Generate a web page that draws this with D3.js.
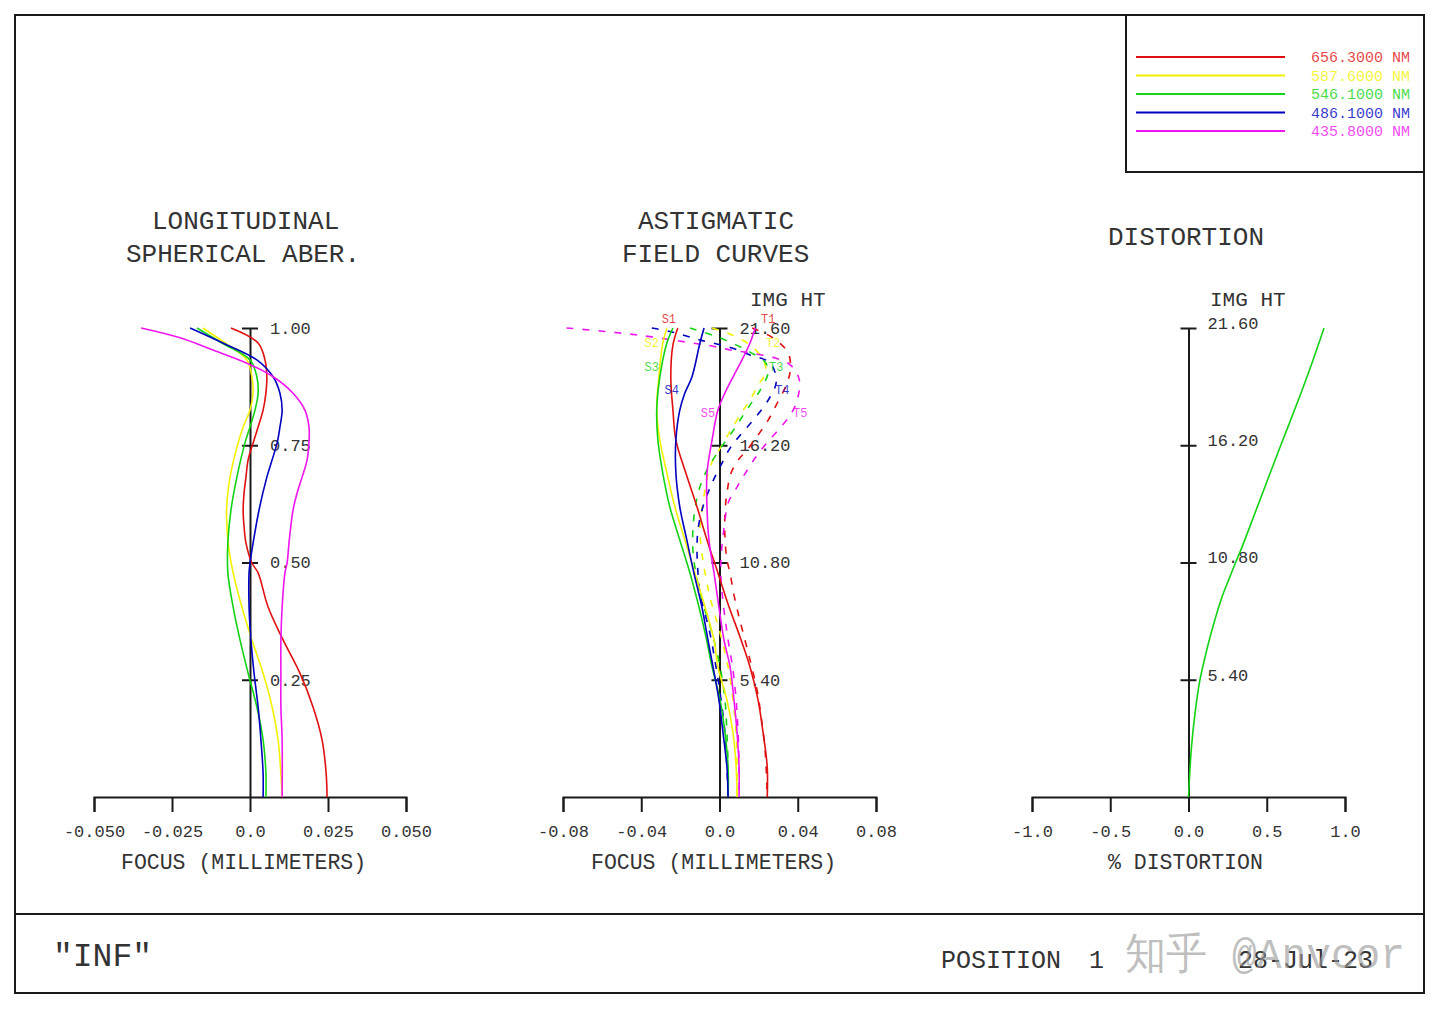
<!DOCTYPE html>
<html><head><meta charset="utf-8">
<script src="https://cdn.jsdelivr.net/npm/d3@7"></script>
<style>
body{margin:0;background:#fff;}
svg{display:block;}
text{font-family:"Liberation Mono","DejaVu Sans Mono",monospace;}
</style></head><body>
<svg id="c" width="1440" height="1009"></svg>
<script>
// ---------- DATA ----------
const wavelengths = ["656.3000 NM","587.6000 NM","546.1000 NM","486.1000 NM","435.8000 NM"];
const waveColors  = ["#e01010","#f2f200","#14d214","#0000c0","#f014f0"];

// Longitudinal spherical aberration: [relative pupil, focus mm]
const lsaRed = [[1.000,-0.0061],[0.968,0.0026],[0.932,0.0048],[0.896,0.0054],[0.861,0.0051],[0.825,0.0042],[0.789,0.0026],[0.755,0.0010],[0.719,-0.0006],[0.682,-0.0013],[0.648,-0.0019],[0.612,-0.0022],[0.576,-0.0019],[0.542,-0.0013],[0.499,0.0006],[0.478,0.0026],[0.405,0.0058],[0.335,0.0106],[0.264,0.0160],[0.192,0.0202],[0.122,0.0231],[0.051,0.0244],[0,0.0247]];
const lsaYellow = [[1.000,-0.0151],[0.968,-0.0080],[0.932,-0.0010],[0.896,0.0006],[0.861,0.0010],[0.825,0.0000],[0.789,-0.0022],[0.755,-0.0038],[0.682,-0.0064],[0.612,-0.0075],[0.542,-0.0070],[0.478,-0.0054],[0.405,-0.0026],[0.335,0.0006],[0.264,0.0042],[0.192,0.0071],[0.122,0.0090],[0.051,0.0099],[0,0.0103]];
const lsaGreen = [[1.000,-0.0170],[0.968,-0.0090],[0.932,0.0000],[0.896,0.0022],[0.861,0.0026],[0.825,0.0016],[0.789,0.0000],[0.755,-0.0016],[0.682,-0.0042],[0.612,-0.0061],[0.542,-0.0071],[0.478,-0.0071],[0.405,-0.0054],[0.335,-0.0032],[0.264,-0.0006],[0.192,0.0022],[0.122,0.0042],[0.051,0.0051],[0,0.0051]];
const lsaBlue = [[1.000,-0.0192],[0.968,-0.0087],[0.932,0.0022],[0.896,0.0074],[0.861,0.0096],[0.825,0.0103],[0.789,0.0096],[0.755,0.0087],[0.719,0.0071],[0.682,0.0054],[0.612,0.0029],[0.542,0.0010],[0.499,0.0000],[0.478,-0.0003],[0.405,-0.0003],[0.335,0.0003],[0.264,0.0013],[0.192,0.0026],[0.122,0.0035],[0.051,0.0042],[0,0.0042]];
const lsaMagenta = [[1.000,-0.0349],[0.979,-0.0224],[0.953,-0.0119],[0.925,-0.0010],[0.896,0.0074],[0.861,0.0138],[0.825,0.0176],[0.789,0.0189],[0.755,0.0189],[0.719,0.0183],[0.682,0.0167],[0.648,0.0151],[0.612,0.0138],[0.542,0.0125],[0.499,0.0119],[0.478,0.0112],[0.405,0.0103],[0.335,0.0099],[0.264,0.0099],[0.192,0.0099],[0.122,0.0103],[0,0.0103]];

// Astigmatic field curves: [image height mm, focus mm]
const sagRed = [[21.60,-0.0213],[20.82,-0.0238],[19.34,-0.0249],[17.82,-0.0238],[16.44,-0.0223],[14.92,-0.0172],[13.36,-0.0115],[11.84,-0.0064],[10.32,-0.0008],[8.75,0.0049],[7.37,0.0105],[5.99,0.0156],[4.47,0.0197],[2.95,0.0223],[1.38,0.0244],[0,0.0244]];
const sagYellow = [[21.60,-0.0269],[20.91,-0.0290],[19.34,-0.0310],[17.82,-0.0321],[16.44,-0.0305],[14.92,-0.0269],[13.36,-0.0228],[11.84,-0.0177],[10.32,-0.0126],[8.75,-0.0074],[7.23,-0.0028],[5.99,-0.0008],[4.47,0.0038],[2.95,0.0069],[1.38,0.0085],[0,0.0090]];
const sagGreen = [[21.60,-0.0238],[20.91,-0.0269],[19.34,-0.0305],[17.82,-0.0321],[16.44,-0.0315],[14.92,-0.0290],[13.36,-0.0254],[11.84,-0.0203],[10.32,-0.0151],[8.75,-0.0105],[7.37,-0.0069],[5.99,-0.0038],[4.47,0.0003],[2.95,0.0028],[1.38,0.0044],[0,0.0044]];
const sagBlue = [[21.60,-0.0079],[20.91,-0.0100],[19.34,-0.0141],[18.61,-0.0177],[17.82,-0.0203],[16.44,-0.0223],[14.92,-0.0223],[13.36,-0.0203],[11.84,-0.0167],[10.32,-0.0131],[8.75,-0.0090],[7.23,-0.0059],[5.99,-0.0033],[4.47,-0.0003],[2.95,0.0018],[1.38,0.0038],[0,0.0044]];
const sagMagenta = [[21.60,0.0182],[20.91,0.0156],[20.13,0.0115],[19.34,0.0069],[18.61,0.0028],[17.82,-0.0008],[16.44,-0.0038],[14.92,-0.0064],[13.36,-0.0064],[11.84,-0.0054],[10.32,-0.0028],[8.75,-0.0003],[7.23,0.0023],[5.99,0.0054],[4.47,0.0074],[2.95,0.0090],[1.38,0.0100],[0,0.0100]];

const tanRed = [[21.60,0.0167],[21.14,0.0274],[20.45,0.0351],[19.67,0.0362],[18.97,0.0341],[18.05,0.0290],[17.36,0.0249],[16.67,0.0197],[15.98,0.0141],[15.52,0.0095],[14.92,0.0059],[14.00,0.0038],[13.08,0.0028],[11.97,0.0028],[10.92,0.0038],[10.32,0.0054],[9.53,0.0069],[8.47,0.0095],[7.55,0.0121],[6.31,0.0156],[4.93,0.0192],[4.01,0.0208],[2.16,0.0233],[0,0.0244]];
const tanYellow = [[21.60,-0.0038],[21.28,0.0064],[20.82,0.0156],[20.22,0.0218],[19.57,0.0238],[18.97,0.0197],[18.28,0.0156],[17.73,0.0115],[16.99,0.0064],[16.21,0.0013],[15.20,-0.0049],[14.14,-0.0074],[13.22,-0.0090],[12.30,-0.0100],[11.24,-0.0090],[10.32,-0.0074],[9.21,-0.0049],[7.55,0.0003],[5.99,0.0044],[4.47,0.0069],[2.95,0.0085],[1.38,0.0090],[0,0.0090]];
const tanGreen = [[21.60,-0.0151],[21.28,-0.0038],[20.95,0.0054],[20.49,0.0156],[20.03,0.0233],[19.57,0.0249],[18.74,0.0208],[18.05,0.0156],[17.36,0.0105],[16.67,0.0054],[15.89,-0.0008],[14.97,-0.0069],[14.14,-0.0105],[13.22,-0.0126],[12.30,-0.0136],[11.38,-0.0136],[10.32,-0.0121],[9.07,-0.0090],[7.55,-0.0038],[5.99,0.0003],[4.47,0.0028],[2.95,0.0038],[1.38,0.0044],[0,0.0044]];
const tanBlue = [[21.60,-0.0346],[21.42,-0.0244],[21.05,-0.0100],[20.68,0.0064],[20.36,0.0156],[19.99,0.0259],[19.11,0.0290],[18.28,0.0249],[17.46,0.0182],[16.76,0.0115],[16.07,0.0054],[15.20,0.0003],[14.46,-0.0038],[13.36,-0.0085],[12.30,-0.0110],[11.38,-0.0115],[10.32,-0.0110],[9.40,-0.0100],[7.55,-0.0049],[5.99,-0.0018],[4.47,0.0008],[2.95,0.0028],[1.38,0.0038],[0,0.0044]];
const tanMagenta = [[21.60,-0.0782],[21.51,-0.0664],[21.42,-0.0562],[21.32,-0.0459],[21.19,-0.0346],[20.91,-0.0141],[20.77,-0.0038],[20.59,0.0054],[20.45,0.0156],[20.22,0.0285],[19.90,0.0362],[19.21,0.0408],[18.28,0.0397],[17.59,0.0362],[16.90,0.0300],[16.21,0.0233],[15.61,0.0182],[14.97,0.0136],[14.28,0.0090],[13.54,0.0044],[12.76,0.0028],[11.97,0.0018],[11.05,0.0008],[9.99,0.0008],[8.61,0.0023],[7.23,0.0044],[5.85,0.0069],[4.47,0.0085],[2.95,0.0095],[1.38,0.0100],[0,0.0100]];

const sLabels = ["S1","S2","S3","S4","S5"];
const tLabels = ["T1","T2","T3","T4","T5"];
const labelHeights = [22.03,20.91,19.80,18.74,17.69];
const sLabelFocus = [-0.0259,-0.0346,-0.0346,-0.0244,-0.0059];
const tLabelFocus = [0.0249,0.0274,0.0290,0.0321,0.0413];

// Distortion: [image height mm, % distortion]
const distortion = [[21.60,0.866],[20.13,0.796],[18.61,0.719],[17.22,0.645],[15.98,0.578],[14.60,0.505],[13.08,0.425],[11.51,0.342],[10.78,0.300],[9.99,0.256],[9.21,0.214],[7.69,0.150],[6.63,0.112],[5.39,0.073],[3.87,0.042],[2.30,0.019],[1.11,0.008],[0,0]];

// Ticks
const lsaXTicks = [-0.05,-0.025,0,0.025,0.05];
const lsaXLabels = ["-0.050","-0.025","0.0","0.025","0.050"];
const lsaYTicks = [0.25,0.5,0.75,1.0];
const lsaYLabels = ["0.25","0.50","0.75","1.00"];
const astXTicks = [-0.08,-0.04,0,0.04,0.08];
const astXLabels = ["-0.08","-0.04","0.0","0.04","0.08"];
const imgTicks = [5.4,10.8,16.2,21.6];
const imgLabels = ["5.40","10.80","16.20","21.60"];
const disXTicks = [-1,-0.5,0,0.5,1];
const disXLabels = ["-1.0","-0.5","0.0","0.5","1.0"];

// ---------- DRAW ----------
const svg = d3.select("#c");
const INK = "#1a1a1a", TXT = "#333";

// frame
svg.append("rect").attr("x",15).attr("y",15).attr("width",1409).attr("height",978)
  .attr("fill","none").attr("stroke",INK).attr("stroke-width",2);
svg.append("line").attr("x1",15).attr("x2",1424).attr("y1",914).attr("y2",914).attr("stroke",INK).attr("stroke-width",2);
svg.append("polyline").attr("points","1126,15 1126,172 1424,172").attr("fill","none").attr("stroke",INK).attr("stroke-width",2);

// legend
const leg = svg.append("g");
wavelengths.forEach((w,i)=>{
  const yy = 57 + i*18.5;
  leg.append("line").attr("x1",1136).attr("x2",1285).attr("y1",yy).attr("y2",yy)
    .attr("stroke",waveColors[i]).attr("stroke-width",2);
  leg.append("text").attr("x",1410).attr("y",yy).attr("dy","0.35em").attr("text-anchor","end")
    .attr("font-size",15).attr("fill",waveColors[i]).attr("fill-opacity",0.8).text(w);
});

function txt(x,y,s,size,anchor){
  return svg.append("text").attr("x",x).attr("y",y).attr("font-size",size)
    .attr("fill",TXT).attr("text-anchor",anchor||"start").text(s);
}

function xAxis(scale,ticks,labels){
  const g = svg.append("g").attr("transform","translate(0,797)")
    .call(d3.axisBottom(scale).tickValues(ticks).tickFormat((d,i)=>labels[i]).tickSize(15).tickPadding(13));
  g.attr("font-family",null).attr("font-size",null);
  g.select(".domain").attr("stroke",INK).attr("stroke-width",2);
  g.selectAll(".tick line").attr("stroke",INK).attr("stroke-width",2);
  g.selectAll(".tick text").attr("font-size",17).attr("fill",TXT);
}
function yAxis(scale,ticks,labels,x,dy,pad){
  const g = svg.append("g").attr("transform",`translate(${x},0)`)
    .call(d3.axisRight(scale).tickValues(ticks).tickFormat((d,i)=>labels[i]).tickSize(8).tickSizeOuter(0).tickPadding(pad));
  g.attr("font-family",null).attr("font-size",null);
  g.select(".domain").attr("stroke",INK).attr("stroke-width",2);
  g.selectAll(".tick line").attr("x1",-8).attr("stroke",INK).attr("stroke-width",2);
  g.selectAll(".tick text").attr("font-size",17).attr("fill",TXT).attr("dy",dy);
}

// scales
const lsaX = d3.scaleLinear([-0.05,0.05],[94,406]);
const lsaY = d3.scaleLinear([0,1],[797,328]);
const astX = d3.scaleLinear([-0.08,0.08],[563,876]);
const astY = d3.scaleLinear([0,21.6],[797,328]);
const disX = d3.scaleLinear([-1,1],[1032,1345]);
const disY = d3.scaleLinear([0,21.6],[797,328]);

// titles
txt(152,229,"LONGITUDINAL",26);
txt(126,262,"SPHERICAL ABER.",26);
txt(638,229,"ASTIGMATIC",26);
txt(622,262,"FIELD CURVES",26);
txt(1108,245,"DISTORTION",26);
txt(750,306,"IMG HT",21);
txt(1210,306,"IMG HT",21);
txt(121,869,"FOCUS (MILLIMETERS)",21.5);
txt(591,869,"FOCUS (MILLIMETERS)",21.5);
txt(1108,869,"% DISTORTION",21.5);

// axes
xAxis(lsaX,lsaXTicks,lsaXLabels);
yAxis(lsaY,lsaYTicks,lsaYLabels,lsaX(0),"0.32em",12);
xAxis(astX,astXTicks,astXLabels);
yAxis(astY,imgTicks,imgLabels,astX(0),"0.32em",12);
xAxis(disX,disXTicks,disXLabels);
yAxis(disY,imgTicks,imgLabels,disX(0),"0.02em",11);

// curves
const curve = d3.curveCatmullRom.alpha(0.5);
function drawCurve(data,X,Y,color,dash){
  const line = d3.line().x(d=>X(d[1])).y(d=>Y(d[0])).curve(curve);
  svg.append("path").datum(data).attr("d",line).attr("fill","none")
    .attr("stroke",color).attr("stroke-width",1.6)
    .attr("stroke-dasharray",dash||null);
}
const lsaSeries = [lsaRed,lsaYellow,lsaGreen,lsaBlue,lsaMagenta];
lsaSeries.forEach((s,i)=>drawCurve(s,lsaX,lsaY,waveColors[i]));

const tanSeries = [tanRed,tanYellow,tanGreen,tanBlue,tanMagenta];
const sagSeries = [sagRed,sagYellow,sagGreen,sagBlue,sagMagenta];
tanSeries.forEach((s,i)=>drawCurve(s,astX,astY,waveColors[i],"7,9"));
sagSeries.forEach((s,i)=>drawCurve(s,astX,astY,waveColors[i]));

sLabels.forEach((l,i)=>{
  svg.append("text").attr("x",astX(sLabelFocus[i])).attr("y",astY(labelHeights[i])).attr("dy","0.35em")
    .attr("text-anchor","middle").attr("font-size",12).attr("fill",waveColors[i]).attr("fill-opacity",0.8).text(l);
  svg.append("text").attr("x",astX(tLabelFocus[i])).attr("y",astY(labelHeights[i])).attr("dy","0.35em")
    .attr("text-anchor","middle").attr("font-size",12).attr("fill",waveColors[i]).attr("fill-opacity",0.8).text(tLabels[i]);
});

drawCurve(distortion,disX,disY,waveColors[2]);

// footer
txt(53,966,"\"INF\"",33);
txt(941,968,"POSITION",25);
txt(1089,968,"1",25);
txt(1238,968,"28-Jul-23",25);
svg.append("text").attr("x",1125).attr("y",968).attr("font-size",43)
  .attr("font-family","'Noto Sans CJK SC','Noto Sans',sans-serif")
  .attr("textLength",280).attr("lengthAdjust","spacingAndGlyphs")
  .attr("fill","#9a9a9a").attr("fill-opacity",0.65).text("知乎 @Anvcor");
</script>
</body></html>
